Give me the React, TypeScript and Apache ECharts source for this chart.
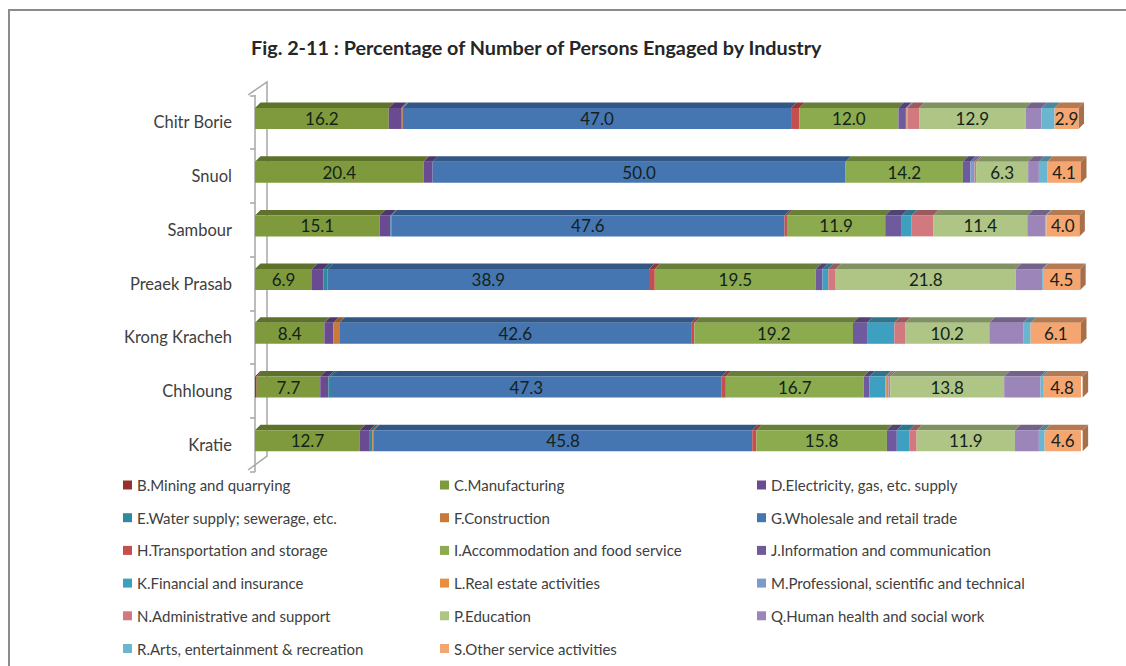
import React, { useEffect, useRef } from "react";
import * as echarts from "echarts";

const TITLE = "Fig. 2-11 : Percentage of Number of Persons Engaged by Industry";
const FONT = "Lato, 'Open Sans', sans-serif";

// listed bottom-to-top, as the value axis stacks them
const towns = ["Kratie", "Chhloung", "Krong Kracheh", "Preaek Prasab", "Sambour", "Snuol", "Chitr Borie"];

const B = [0, 0.2, 0, 0, 0, 0, 0];
const C = [12.7, 7.7, 8.4, 6.9, 15.1, 20.4, 16.2];
const D = [1.2, 1.0, 1.1, 1.4, 1.3, 1.1, 1.5];
const E = [0.3, 0.3, 0, 0.5, 0.1, 0, 0.1];
const F = [0.2, 0, 0.7, 0, 0, 0, 0.1];
const G = [45.8, 47.3, 42.6, 38.9, 47.6, 50.0, 47.0];
const H = [0.5, 0.5, 0.4, 0.7, 0.3, 0, 1.0];
const I = [15.8, 16.7, 19.2, 19.5, 11.9, 14.2, 12.0];
const J = [1.2, 0.7, 1.7, 0.8, 2.0, 0.9, 0.9];
const K = [1.5, 1.9, 3.3, 0.7, 1.2, 0, 0];
const L = [0, 0.2, 0, 0, 0, 0, 0.1];
const M = [0, 0.2, 0, 0, 0, 0.5, 0.1];
const N = [0.9, 0.2, 1.3, 0.9, 2.6, 0.2, 1.4];
const P = [11.9, 13.8, 10.2, 21.8, 11.4, 6.3, 12.9];
const Q = [2.9, 4.4, 4.1, 3.2, 2.2, 1.3, 1.9];
const R = [0.7, 0.3, 0.9, 0.1, 0.1, 1.0, 1.6];
const S = [4.6, 4.8, 6.1, 4.5, 4.0, 4.1, 2.9];

const industries: [string, number[], string, boolean][] = [
  ["B.Mining and quarrying", B, "#96312e", false],
  ["C.Manufacturing", C, "#7f9a3c", true],
  ["D.Electricity, gas, etc. supply", D, "#6a4a90", false],
  ["E.Water supply; sewerage, etc.", E, "#2f8aa0", false],
  ["F.Construction", F, "#c9793a", false],
  ["G.Wholesale and retail trade", G, "#4576b2", true],
  ["H.Transportation and storage", H, "#c44f4c", false],
  ["I.Accommodation and food service", I, "#8cab4e", true],
  ["J.Information and communication", J, "#6f5a9e", false],
  ["K.Financial and insurance", K, "#3ea0c0", false],
  ["L.Real estate activities", L, "#e98e3c", false],
  ["M.Professional, scientific and technical", M, "#7c9acb", false],
  ["N.Administrative and support", N, "#d2797f", false],
  ["P.Education", P, "#aec585", true],
  ["Q.Human health and social work", Q, "#9c85b9", false],
  ["R.Arts, entertainment & recreation", R, "#6ab6d0", false],
  ["S.Other service activities", S, "#f5a56f", true],
];

const legendCol1 = ["B.Mining and quarrying", "E.Water supply; sewerage, etc.", "H.Transportation and storage", "K.Financial and insurance", "N.Administrative and support", "R.Arts, entertainment & recreation"];
const legendCol2 = ["C.Manufacturing", "F.Construction", "I.Accommodation and food service", "L.Real estate activities", "P.Education", "S.Other service activities"];
const legendCol3 = ["D.Electricity, gas, etc. supply", "G.Wholesale and retail trade", "J.Information and communication", "M.Professional, scientific and technical", "Q.Human health and social work"];

const BAR = 21;
const DEPTH = 5.5;

const shade = (hex: string, k: number) => {
  const n = parseInt(hex.slice(1), 16);
  const ch = (s: number) => Math.round(((n >> s) & 255) * k);
  return `rgb(${ch(16)},${ch(8)},${ch(0)})`;
};

// [row, start, end, industry index, is last visible segment]
const segments: number[][] = [];
towns.forEach((_, row) => {
  let sum = 0;
  let last = 0;
  industries.forEach((ind, i) => { if (ind[1][row] > 0) last = i; });
  industries.forEach((ind, i) => {
    const v = ind[1][row];
    if (v > 0) segments.push([row, sum, sum + v, i, i === last ? 1 : 0]);
    sum += v;
  });
});

const renderFaces = (_: any, api: any) => {
  const row = api.value(0);
  const p0 = api.coord([api.value(1), row]);
  const p1 = api.coord([api.value(2), row]);
  const color = industries[api.value(3)][2];
  const top = p0[1] - BAR / 2;
  const bottom = p0[1] + BAR / 2;
  const children: any[] = [
    {
      type: "polygon",
      shape: { points: [[p0[0], top], [p1[0], top], [p1[0] + DEPTH, top - DEPTH], [p0[0] + DEPTH, top - DEPTH]] },
      style: { fill: shade(color, 0.74) },
    },
  ];
  if (api.value(4)) {
    children.push({
      type: "polygon",
      shape: { points: [[p1[0], top], [p1[0] + DEPTH, top - DEPTH], [p1[0] + DEPTH, bottom - DEPTH], [p1[0], bottom]] },
      style: { fill: shade(color, 0.68) },
    });
  }
  return { type: "group", children };
};

const line = (points: number[][], stroke = "#a6a6a6", lineWidth = 1.5) => ({
  type: "polyline",
  z: -1,
  silent: true,
  shape: { points },
  style: { stroke, lineWidth, fill: "none" },
});

export default function App() {
  const ref = useRef<HTMLDivElement>(null);
  useEffect(() => {
    const chart = echarts.init(ref.current!, undefined, { renderer: "svg" });
    const legendBase = {
      orient: "vertical" as const,
      top: 477,
      height: 189,
      padding: 0,
      icon: "rect",
      itemWidth: 9,
      itemHeight: 9,
      itemGap: 16.7,
      selectedMode: false,
      textStyle: { fontFamily: FONT, fontSize: 15, lineHeight: 16, color: "#404040" },
    };
    chart.setOption({
      animation: false,
      backgroundColor: "#ffffff",
      title: {
        text: TITLE,
        left: 246,
        top: 32,
        textStyle: { fontFamily: FONT, fontSize: 19.8, fontWeight: "bold", color: "#262626" },
      },
      grid: [
        { left: 255, width: 826, top: 91.6, height: 376 },
        { left: 255, width: 826, top: 95.5, height: 376 },
      ],
      xAxis: [
        { type: "value", min: 0, max: 100, show: false, gridIndex: 0 },
        { type: "value", min: 0, max: 100, show: false, gridIndex: 1 },
      ],
      yAxis: [
        { type: "category", data: towns, show: false, gridIndex: 0 },
        {
          type: "category",
          data: towns,
          gridIndex: 1,
          offset: 7,
          axisLine: { show: true, lineStyle: { color: "#a6a6a6", width: 1.5 } },
          axisTick: { show: true, length: 5, lineStyle: { color: "#a6a6a6", width: 1.5 } },
          axisLabel: { fontFamily: FONT, fontSize: 16.5, color: "#404040", margin: 16 },
        },
      ],
      legend: [
        { ...legendBase, left: 123, data: legendCol1 },
        { ...legendBase, left: 440, data: legendCol2 },
        { ...legendBase, left: 757, data: legendCol3 },
      ],
      graphic: [
        line([[248, 95], [267, 82], [267, 456], [248, 470]]),
        line([[9, 666], [9, 10], [1126, 10]], "#8c8c8c", 2),
      ],
      series: [
        ...industries.map(([name, values, color, labelled]) => ({
          name,
          type: "bar",
          stack: "total",
          xAxisIndex: 0,
          yAxisIndex: 0,
          barWidth: BAR,
          data: values,
          itemStyle: { color },
          label: {
            show: labelled,
            position: "inside",
            formatter: (p: any) => p.value.toFixed(1),
            fontFamily: FONT,
            fontSize: 17,
            color: "#14221a",
          },
        })),
        {
          name: "3D faces",
          type: "custom",
          xAxisIndex: 0,
          yAxisIndex: 0,
          silent: true,
          renderItem: renderFaces,
          encode: { x: [1, 2], y: 0 },
          data: segments,
          z: 1,
          clip: false,
        },
      ],
    });
    return () => chart.dispose();
  }, []);
  return <div ref={ref} style={{ position: "absolute", left: 0, top: 0, width: 1126, height: 666 }} />;
}
